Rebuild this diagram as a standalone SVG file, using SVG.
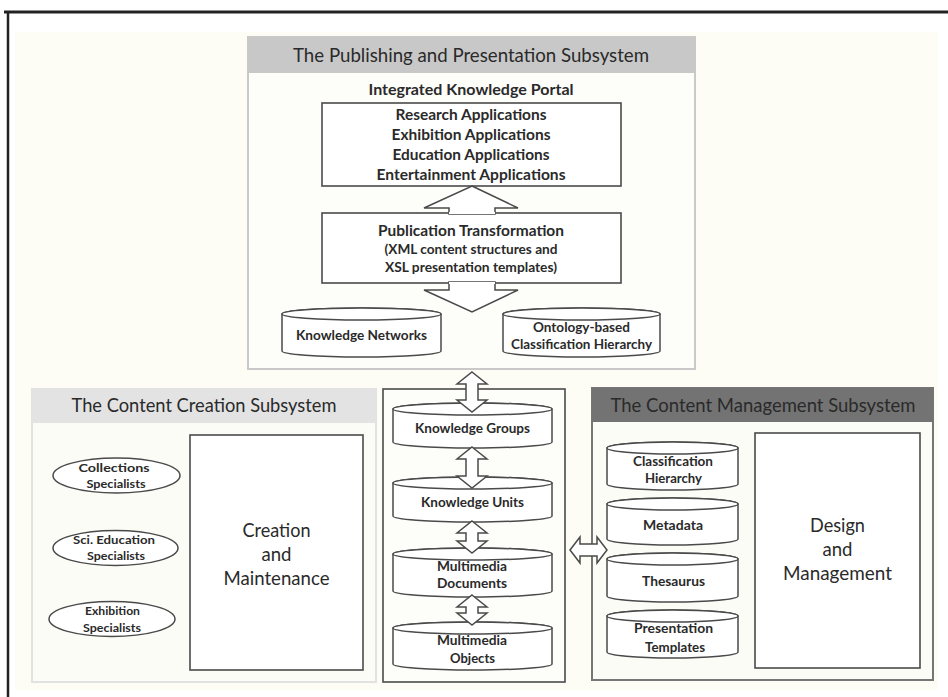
<svg xmlns="http://www.w3.org/2000/svg" width="948" height="697" viewBox="0 0 948 697">
  <style>
    text { font-family: Lato, "Open Sans", "Liberation Sans", sans-serif; fill: #2a2a2a; text-anchor: middle; }
    .title { font-size: 19px; font-weight: 400; }
    .big { font-size: 20px; font-weight: 400; }
    .b15 { font-size: 15px; font-weight: 700; }
    .b13 { font-size: 13px; font-weight: 700; }
    .b12 { font-size: 12px; font-weight: 700; }
    .box { fill: #ffffff; stroke: #4a4a4a; stroke-width: 1.6; }
    .cyl { fill: #ffffff; stroke: #4a4a4a; stroke-width: 1.5; }
    .arrow { fill: #ffffff; stroke: #4a4a4a; stroke-width: 1.5; stroke-linejoin: miter; }
  </style>

  <!-- page and frame -->
  <rect x="0" y="0" width="948" height="697" fill="#ffffff"/>
  <rect x="15" y="32" width="923" height="658" fill="#fdfdf6"/>
  <line x1="4" y1="12" x2="948" y2="12" stroke="#222" stroke-width="3"/>
  <line x1="8" y1="11" x2="8" y2="697" stroke="#222" stroke-width="2.5"/>

  <!-- Publishing and Presentation Subsystem -->
  <g id="publishing">
    <rect x="248" y="37" width="447" height="332" fill="#fdfdfa" stroke="#c9c9c9" stroke-width="2"/>
    <rect x="248" y="37" width="447" height="36" fill="#c8c8c8"/>
    <text class="title" x="471" y="62" textLength="356" lengthAdjust="spacingAndGlyphs">The Publishing and Presentation Subsystem</text>
    <text class="b15" x="471" y="95" textLength="205" lengthAdjust="spacingAndGlyphs">Integrated Knowledge Portal</text>
  </g>

  <g id="applications">
    <rect class="box" x="322" y="103" width="299" height="83"/>
    <text class="b15" x="471" y="120" textLength="151" lengthAdjust="spacingAndGlyphs">Research Applications</text>
    <text class="b15" x="471" y="140" textLength="159" lengthAdjust="spacingAndGlyphs">Exhibition Applications</text>
    <text class="b15" x="471" y="160" textLength="157" lengthAdjust="spacingAndGlyphs">Education Applications</text>
    <text class="b15" x="471" y="180" textLength="189" lengthAdjust="spacingAndGlyphs">Entertainment Applications</text>
  </g>

  <g id="publication-transformation">
    <rect class="box" x="322" y="213" width="299" height="70"/>
    <text class="b15" x="471" y="236" textLength="186" lengthAdjust="spacingAndGlyphs">Publication Transformation</text>
    <text class="b13" x="471" y="254" textLength="173" lengthAdjust="spacingAndGlyphs">(XML content structures and</text>
    <text class="b13" x="471" y="272" textLength="172" lengthAdjust="spacingAndGlyphs">XSL presentation templates)</text>
  </g>

  <g id="knowledge-networks">
    <path class="cyl" d="M282 314 L282 351 A79.5 6 0 0 0 441 351 L441 314 A79.5 6 0 0 0 282 314 Z"/>
    <ellipse class="cyl" cx="361.5" cy="314" rx="79.5" ry="6"/>
    <text class="b13" x="361.5" y="340" textLength="131" lengthAdjust="spacingAndGlyphs">Knowledge Networks</text>
  </g>

  <g id="ontology-classification">
    <path class="cyl" d="M503 314 L503 351 A78.5 6 0 0 0 660 351 L660 314 A78.5 6 0 0 0 503 314 Z"/>
    <ellipse class="cyl" cx="581.5" cy="314" rx="78.5" ry="6"/>
    <text class="b13" x="581.5" y="332" textLength="97" lengthAdjust="spacingAndGlyphs">Ontology-based</text>
    <text class="b13" x="581.5" y="349" textLength="141" lengthAdjust="spacingAndGlyphs">Classification Hierarchy</text>
  </g>

  <!-- Content Creation Subsystem -->
  <g id="content-creation">
    <rect x="32" y="389" width="344" height="293" fill="#fcfcf7" stroke="#e2e2e2" stroke-width="2"/>
    <rect x="32" y="389" width="344" height="34" fill="#e3e3e3"/>
    <text class="title" x="204" y="412" textLength="265" lengthAdjust="spacingAndGlyphs">The Content Creation Subsystem</text>
  </g>

  <g id="creation-maintenance">
    <rect class="box" x="190" y="435" width="173" height="235"/>
    <text class="big" x="276.5" y="537" textLength="68" lengthAdjust="spacingAndGlyphs">Creation</text>
    <text class="big" x="276.5" y="561" textLength="30" lengthAdjust="spacingAndGlyphs">and</text>
    <text class="big" x="276.5" y="585" textLength="106" lengthAdjust="spacingAndGlyphs">Maintenance</text>
  </g>

  <g id="collections-specialists">
    <ellipse class="cyl" cx="116.5" cy="475.5" rx="63.5" ry="17.5"/>
    <text class="b12" x="114" y="472" textLength="71" lengthAdjust="spacingAndGlyphs">Collections</text>
    <text class="b12" x="116" y="488" textLength="59" lengthAdjust="spacingAndGlyphs">Specialists</text>
  </g>

  <g id="education-specialists">
    <ellipse class="cyl" cx="115.5" cy="548" rx="62.5" ry="17.5"/>
    <text class="b12" x="114" y="544" textLength="82" lengthAdjust="spacingAndGlyphs">Sci. Education</text>
    <text class="b12" x="116" y="560" textLength="58" lengthAdjust="spacingAndGlyphs">Specialists</text>
  </g>

  <g id="exhibition-specialists">
    <ellipse class="cyl" cx="112" cy="619" rx="63" ry="17.5"/>
    <text class="b12" x="112.5" y="615" textLength="55" lengthAdjust="spacingAndGlyphs">Exhibition</text>
    <text class="b12" x="112" y="632" textLength="58" lengthAdjust="spacingAndGlyphs">Specialists</text>
  </g>

  <!-- Central repository -->
  <g id="repository">
    <rect x="383" y="389" width="182" height="293" fill="#fdfdfa" stroke="#4a4a4a" stroke-width="1.6"/>
  </g>

  <g id="knowledge-groups">
    <path class="cyl" d="M393 409 L393 442 A79.5 6 0 0 0 552 442 L552 409 A79.5 6 0 0 0 393 409 Z"/>
    <ellipse class="cyl" cx="472.5" cy="409" rx="79.5" ry="6"/>
    <text class="b13" x="472.5" y="433" textLength="115" lengthAdjust="spacingAndGlyphs">Knowledge Groups</text>
  </g>

  <g id="knowledge-units">
    <path class="cyl" d="M393 483 L393 516 A79.5 6 0 0 0 552 516 L552 483 A79.5 6 0 0 0 393 483 Z"/>
    <ellipse class="cyl" cx="472.5" cy="483" rx="79.5" ry="6"/>
    <text class="b13" x="472.5" y="507" textLength="103" lengthAdjust="spacingAndGlyphs">Knowledge Units</text>
  </g>

  <g id="multimedia-documents">
    <path class="cyl" d="M393 554 L393 591 A79.5 6 0 0 0 552 591 L552 554 A79.5 6 0 0 0 393 554 Z"/>
    <ellipse class="cyl" cx="472.5" cy="554" rx="79.5" ry="6"/>
    <text class="b13" x="472" y="571" textLength="70" lengthAdjust="spacingAndGlyphs">Multimedia</text>
    <text class="b13" x="472" y="588" textLength="70" lengthAdjust="spacingAndGlyphs">Documents</text>
  </g>

  <g id="multimedia-objects">
    <path class="cyl" d="M393 628 L393 664 A79.5 6 0 0 0 552 664 L552 628 A79.5 6 0 0 0 393 628 Z"/>
    <ellipse class="cyl" cx="472.5" cy="628" rx="79.5" ry="6"/>
    <text class="b13" x="472" y="645" textLength="70" lengthAdjust="spacingAndGlyphs">Multimedia</text>
    <text class="b13" x="472.5" y="663" textLength="45" lengthAdjust="spacingAndGlyphs">Objects</text>
  </g>

  <!-- Content Management Subsystem -->
  <g id="content-management">
    <rect x="592" y="388" width="341" height="292" fill="#fcfcf7" stroke="#767676" stroke-width="2"/>
    <rect x="592" y="388" width="341" height="34" fill="#737373"/>
    <text class="title" x="763" y="412" textLength="305" lengthAdjust="spacingAndGlyphs">The Content Management Subsystem</text>
  </g>

  <g id="classification-hierarchy">
    <path class="cyl" d="M607 448 L607 484 A65.5 6 0 0 0 738 484 L738 448 A65.5 6 0 0 0 607 448 Z"/>
    <ellipse class="cyl" cx="672.5" cy="448" rx="65.5" ry="6"/>
    <text class="b13" x="673" y="466" textLength="80" lengthAdjust="spacingAndGlyphs">Classification</text>
    <text class="b13" x="673.5" y="483" textLength="57" lengthAdjust="spacingAndGlyphs">Hierarchy</text>
  </g>

  <g id="metadata">
    <path class="cyl" d="M607 504 L607 539 A65.5 6 0 0 0 738 539 L738 504 A65.5 6 0 0 0 607 504 Z"/>
    <ellipse class="cyl" cx="672.5" cy="504" rx="65.5" ry="6"/>
    <text class="b13" x="673" y="530" textLength="60" lengthAdjust="spacingAndGlyphs">Metadata</text>
  </g>

  <g id="thesaurus">
    <path class="cyl" d="M607 559 L607 596 A65.5 6 0 0 0 738 596 L738 559 A65.5 6 0 0 0 607 559 Z"/>
    <ellipse class="cyl" cx="672.5" cy="559" rx="65.5" ry="6"/>
    <text class="b13" x="673.5" y="586" textLength="63" lengthAdjust="spacingAndGlyphs">Thesaurus</text>
  </g>

  <g id="presentation-templates">
    <path class="cyl" d="M607 616 L607 652 A65.5 6 0 0 0 738 652 L738 616 A65.5 6 0 0 0 607 616 Z"/>
    <ellipse class="cyl" cx="672.5" cy="616" rx="65.5" ry="6"/>
    <text class="b13" x="673.5" y="633" textLength="79" lengthAdjust="spacingAndGlyphs">Presentation</text>
    <text class="b13" x="675" y="652" textLength="60" lengthAdjust="spacingAndGlyphs">Templates</text>
  </g>

  <g id="design-management">
    <rect class="box" x="755" y="433" width="165" height="235"/>
    <text class="big" x="837.5" y="532" textLength="55" lengthAdjust="spacingAndGlyphs">Design</text>
    <text class="big" x="837.5" y="556" textLength="30" lengthAdjust="spacingAndGlyphs">and</text>
    <text class="big" x="837.5" y="580" textLength="109" lengthAdjust="spacingAndGlyphs">Management</text>
  </g>

  <!-- Block arrows between components -->
  <g id="connectors">
    <!-- transformation up to applications -->
    <path class="arrow" d="M472 186 L518 208 L495 208 L495 214 L449 214 L449 208 L424 208 Z"/>
    <line x1="449" y1="213" x2="495" y2="213" stroke="#ffffff" stroke-width="2"/>
    <!-- transformation down to knowledge stores -->
    <path class="arrow" d="M449 282 L495 282 L495 290 L518 290 L472 312 L424 290 L449 290 Z"/>
    <line x1="449" y1="283" x2="495" y2="283" stroke="#ffffff" stroke-width="2"/>
    <!-- publishing <-> knowledge groups -->
    <path class="arrow" d="M472 372 L487 384 L478 384 L478 400 L487 400 L472 412 L457 400 L466 400 L466 384 L457 384 Z"/>
    <!-- knowledge groups <-> knowledge units -->
    <path class="arrow" d="M472 447 L487 459 L478 459 L478 476 L487 476 L472 488 L457 476 L466 476 L466 459 L457 459 Z"/>
    <!-- knowledge units <-> multimedia documents -->
    <path class="arrow" d="M472 521 L487 533 L478 533 L478 541 L487 541 L472 553 L457 541 L466 541 L466 533 L457 533 Z"/>
    <!-- multimedia documents <-> multimedia objects -->
    <path class="arrow" d="M472 595 L487 607 L478 607 L478 613 L487 613 L472 625 L457 613 L466 613 L466 607 L457 607 Z"/>
    <!-- repository <-> content management -->
    <path class="arrow" d="M570 550 L580 537 L580 544 L597 544 L597 537 L607 550 L597 563 L597 556 L580 556 L580 563 Z"/>
  </g>
</svg>
